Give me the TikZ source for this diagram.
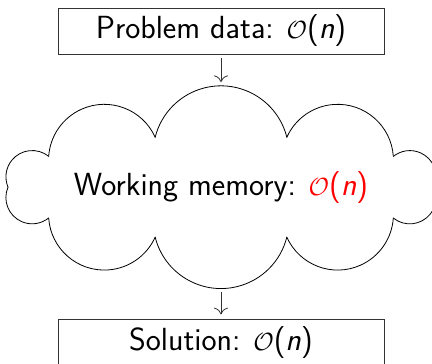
\documentclass[tikz,border=0pt]{standalone}
\usetikzlibrary{arrows.meta}
\begin{document}
\begin{tikzpicture}[x=1pt,y=1pt,
  boxnode/.style={draw=black!80, line width=0.8pt, minimum width=326pt, minimum height=46pt, inner sep=0pt, font=\fontsize{32}{38}\selectfont\sffamily},
  cloudnode/.style={minimum width=426pt, minimum height=200.8pt, inner sep=0pt, font=\fontsize{32}{38}\selectfont\sffamily},
  puff/.style={line width=0.8pt, line cap=round},
  flow/.style={-{To[scale=2]}, line width=0.8pt, draw=black!80, shorten <=4pt, shorten >=4.5pt}]
\useasboundingbox (0,0) rectangle (432,364);
\node[boxnode] (pd) at (221,333) {Problem data:\hspace{0.4em}$\mathcal{O}$(\textit{n})};
\node[cloudnode] (wm) at (221,176.8) {Working memory:\hspace{0.4em}\textcolor{red}{$\mathcal{O}$(\textit{n})}};
\node[boxnode] (sol) at (221,21.7) {Solution:\hspace{0.4em}$\mathcal{O}$(\textit{n})};
\foreach \i in {0,...,9} {
  \pgfmathsetmacro\xa{221+213*cos(36*\i)}
  \pgfmathsetmacro\ya{176.8+52.5*sin(36*\i)}
  \pgfmathsetmacro\xb{221+213*cos(36*(\i+1))}
  \pgfmathsetmacro\yb{176.8+52.5*sin(36*(\i+1))}
  \pgfmathsetmacro\ang{atan2(\yb-\ya,\xb-\xa)}
  \pgfmathsetmacro\chd{veclen(\xb-\xa,\yb-\ya)}
  \pgfmathsetmacro\rad{\chd/(2*sin(76))}
  \draw[puff] (\xa,\ya) arc[start angle=\ang-166, end angle=\ang-14, radius=\rad pt];
}
\draw[flow] (pd) -- (wm);
\draw[flow] (wm) -- (sol);
\end{tikzpicture}
\end{document}
